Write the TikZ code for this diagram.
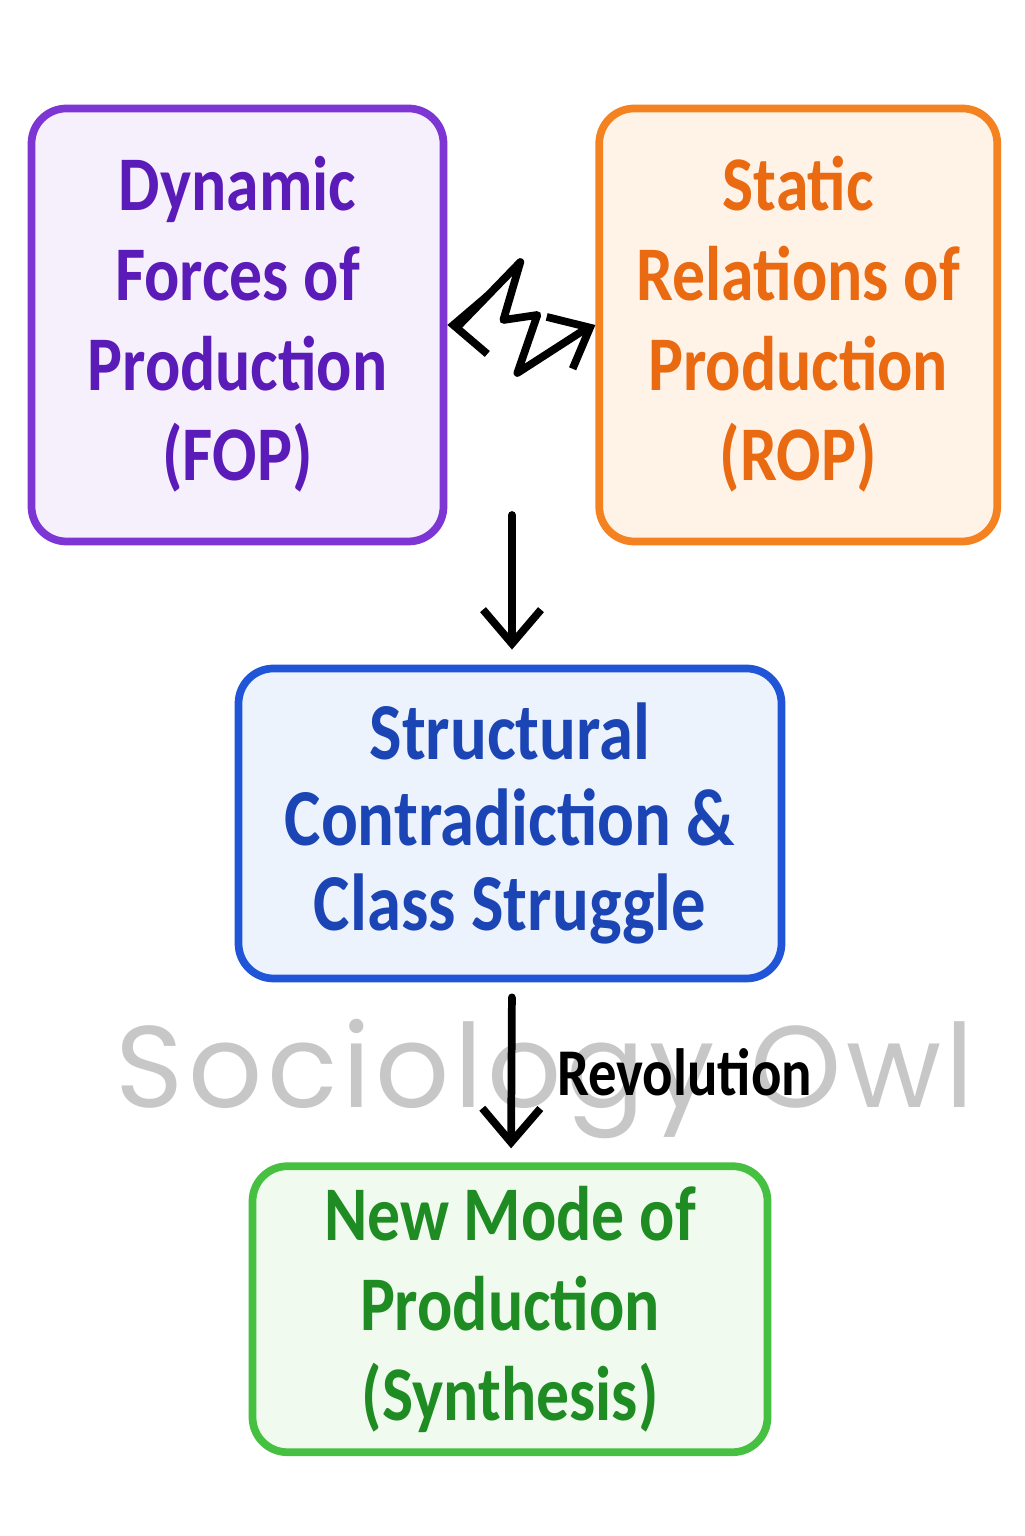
\documentclass[tikz,border=0pt]{standalone}
\usepackage{fontspec}
\setmainfont{Carlito}[FakeStretch=0.85]
\newfontfamily\owlfont{Poppins}[LetterSpace=4]
\usetikzlibrary{arrows.meta,positioning}

\definecolor{fopline}{HTML}{7D35D3}
\definecolor{foptext}{HTML}{5B1BB8}
\definecolor{fopfill}{HTML}{F6F0FC}
\definecolor{ropline}{HTML}{F58220}
\definecolor{roptext}{HTML}{EA6A12}
\definecolor{ropfill}{HTML}{FFF3E8}
\definecolor{clashline}{HTML}{1F55D6}
\definecolor{clashtext}{HTML}{1B45B5}
\definecolor{clashfill}{HTML}{EDF3FD}
\definecolor{newline}{HTML}{45C040}
\definecolor{newtext}{HTML}{1E8C22}
\definecolor{newfill}{HTML}{F0FAEE}

\begin{document}
\begin{tikzpicture}[
    >={Straight Barb[length=3.4mm,width=5.8mm]},
    box/.style={draw, line width=2.2pt, rounded corners=0.35cm, align=center, inner sep=0pt,
        font=\fontsize{22}{25.6}\selectfont\bfseries},
    arr/.style={draw=black, line width=2.2pt, line cap=round, line join=round}
]
\fill[white] (0,0) rectangle (10.24,15.36);
\useasboundingbox (0,0) rectangle (10.24,15.36);

% watermark behind everything
\node[text=black!22, font=\owlfont\fontsize{33}{33}\selectfont] (owl) at (5.45,4.57) {Sociology Owl};

\node[box, draw=fopline, fill=fopfill, text=foptext, minimum width=4.12cm, minimum height=4.33cm] (fop) at (2.375,12.11)
    {Dynamic\\Forces of\\Production\\(FOP)\vphantom{g}};
\node[box, draw=ropline, fill=ropfill, text=roptext, minimum width=3.98cm, minimum height=4.33cm, right=1.48cm of fop] (rop)
    {Static\\Relations of\\Production\\(ROP)\vphantom{g}};
\node[box, draw=clashline, fill=clashfill, text=clashtext, minimum width=5.43cm, minimum height=3.10cm,
    font=\fontsize{23}{24.4}\selectfont\bfseries] (clash) at (5.10,7.125)
    {Structural\\Contradiction \&\\Class Struggle};
\node[box, draw=newline, fill=newfill, text=newtext, minimum width=5.15cm, minimum height=2.86cm, below=1.80cm of clash] (newmode)
    {New Mode of\\Production\\(Synthesis)};

% clash between forces and relations
\draw[arr, <->] (fop.east) -- ++(0.12,0) -- ++(0.61,0.63) -- ++(-0.17,-0.58) -- ++(0.34,0.05) -- ++(-0.20,-0.58)
    -- ++(0.62,0.40) -- (rop.west);

\coordinate (split) at (5.12,10.21);
\draw[arr, ->, shorten >=1.5mm] (split) -- (split |- clash.north);
\draw[arr, ->, shorten <=1.5mm, shorten >=1.4mm] ([xshift=0.02cm]clash.south) -- ([xshift=0.01cm]newmode.north)
    node[midway, right=0.3cm, font=\fontsize{19}{19}\selectfont\bfseries] (rev) {Revolution};
\end{tikzpicture}
\end{document}
